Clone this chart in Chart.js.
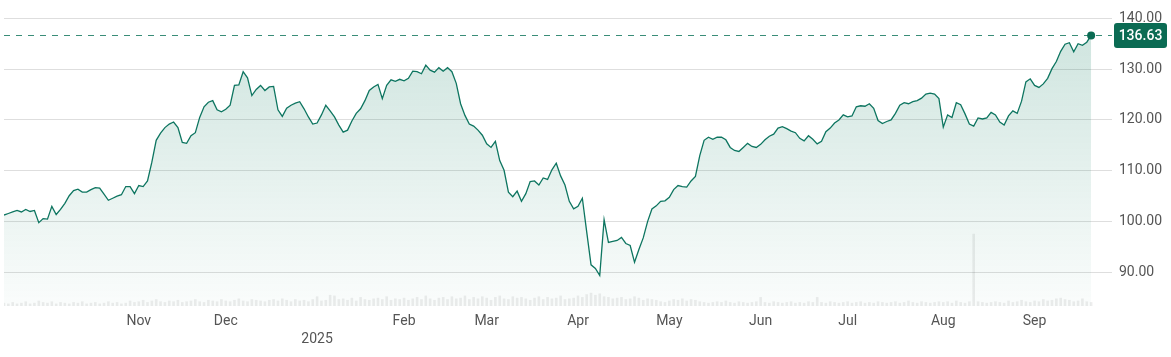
<!DOCTYPE html>
<html><head><meta charset="utf-8">
<script src="https://cdn.jsdelivr.net/npm/chart.js@4/dist/chart.umd.min.js"></script>
<style>html,body{margin:0;padding:0;background:#fff;overflow:hidden}#wrap{width:1171px;height:357px;position:relative}</style>
</head><body><div id="wrap"><canvas id="c"></canvas></div>
<script>
// Daily closing prices, Sep 19 2024 -> Sep 19 2025 (trading days)
const prices = [
101.3,101.6,101.9,102.2,101.9,102.4,102.0,102.2,99.8,100.6,
100.5,103.0,101.4,102.4,103.6,105.1,106.1,106.4,105.8,105.8,
106.3,106.7,106.6,105.4,104.2,104.6,105.0,105.3,106.9,106.9,
105.5,107.1,106.9,108.0,111.7,116.0,117.4,118.5,119.2,119.6,
118.5,115.6,115.4,116.9,117.5,120.5,122.6,123.5,123.8,122.0,
121.6,122.1,122.9,126.8,126.9,129.5,128.3,124.8,126.0,126.8,
125.8,126.5,126.6,122.0,120.7,122.3,122.9,123.3,123.6,122.2,
120.6,119.2,119.4,121.0,122.9,121.8,120.6,119.0,117.6,118.0,
119.8,121.3,122.2,123.8,125.8,126.5,127.0,124.2,126.8,127.9,
127.6,128.0,127.7,128.2,129.6,129.5,129.1,130.8,129.8,129.4,
130.3,129.6,130.3,129.5,127.2,123.2,120.9,119.2,118.8,118.0,
117.0,115.3,114.6,115.8,112.0,110.1,105.8,104.9,106.0,104.0,
105.5,107.9,108.0,107.2,108.6,108.3,110.2,111.5,109.0,107.2,
104.0,102.5,103.0,104.6,98.0,91.5,90.8,89.4,100.4,95.9,
96.1,96.3,96.9,95.7,95.3,92.0,94.5,96.8,100.0,102.5,
103.1,104.0,104.1,104.8,106.3,107.1,106.9,106.8,108.0,108.9,
113.0,116.0,116.6,116.2,116.6,116.6,116.1,114.6,114.0,113.8,
114.6,115.4,114.8,114.6,115.2,116.1,116.8,117.2,118.4,118.7,
118.3,117.8,117.5,116.4,115.9,116.9,116.2,115.3,115.8,117.7,
118.4,119.4,120.0,121.0,120.6,120.8,122.6,122.8,122.7,123.2,
122.3,119.9,119.3,119.7,120.0,121.3,122.9,123.4,123.2,123.6,
123.8,124.3,125.1,125.3,125.1,124.2,118.6,121.0,120.5,123.4,
123.0,121.2,119.2,118.8,120.4,120.2,120.4,121.5,121.0,119.6,
119.0,120.8,121.8,121.3,123.7,127.5,128.1,126.8,126.4,127.1,
128.2,130.1,131.5,133.5,134.9,135.2,133.4,135.0,134.7,135.3,
136.63
];
// Daily volume (relative units)
const volumes = [
4,3,5,3,4,6,3,4,7,5,4,6,3,5,4,3,5,4,6,3,4,5,3,4,6,4,5,3,4,7,5,
6,8,5,7,9,6,5,7,6,8,5,6,7,9,6,5,8,7,6,9,7,6,8,10,7,6,9,8,7,6,8,9,7,10,8,6,9,7,8,6,
9,13,7,8,15,14,9,10,8,11,7,12,9,8,10,11,9,13,8,10,
9,11,8,10,12,9,14,10,8,11,12,9,13,10,11,14,9,12,10,13,11,8,12,14,10,9,13,11,12,10,8,11,13,9,12,10,11,14,9,10,
11,14,12,16,18,15,17,13,12,10,11,12,9,10,13,11,8,10,9,8,
6,5,7,9,8,10,7,9,8,6,5,4,5,6,5,7,5,4,6,5,4,5,6,12,5,4,6,5,4,5,6,4,5,4,6,5,12,5,4,6,5,4,5,6,4,5,6,4,5,4,6,5,4,5,6,4,5,7,5,4,6,5,4,5,6,
5,6,4,7,5,4,6,100,6,5,4,5,6,5,4,7,5,6,8,6,5,7,6,9,7,8,10,11,9,8,6,7,10,6,5
];
// First trading day of each month (index into prices) and its label
const monthTickIndex = [31,51,72,92,111,132,153,174,194,216,237];
const monthTickLabels = ['Nov','Dec',['','2025'],'Feb','Mar','Apr','May','Jun','Jul','Aug','Sep'];
const priceTicks = [90,100,110,120,130,140];

const GREEN = '#0d7560';
const lastIdx = prices.length - 1;
const lastPrice = prices[lastIdx];

Chart.defaults.font.family = "Roboto, 'Noto Sans', sans-serif";

const lastPricePlugin = {
  id: 'lastPrice',
  beforeDatasetsDraw(chart) {
    const {ctx, chartArea} = chart;
    const y = chart.scales.y.getPixelForValue(lastPrice);
    ctx.save();
    ctx.strokeStyle = '#3a8d78';
    ctx.lineWidth = 1;
    ctx.setLineDash([6, 6]);
    ctx.beginPath();
    ctx.moveTo(chartArea.left, Math.round(y) + 0.5);
    ctx.lineTo(chartArea.right, Math.round(y) + 0.5);
    ctx.stroke();
    ctx.restore();
  },
  afterDraw(chart) {
    const {ctx, chartArea} = chart;
    const y = chart.scales.y.getPixelForValue(lastPrice);
    const x0 = chartArea.right + 2, x1 = chart.width - 4, h = 25;
    ctx.save();
    ctx.fillStyle = '#0b6b53';
    ctx.beginPath();
    ctx.roundRect(x0, y - h / 2, x1 - x0, h, 3);
    ctx.fill();
    ctx.fillStyle = '#fff';
    ctx.font = "500 14px Roboto, sans-serif";
    ctx.textAlign = 'center';
    ctx.textBaseline = 'middle';
    ctx.fillText(lastPrice.toFixed(2), (x0 + x1) / 2, y + 1);
    ctx.restore();
  }
};

new Chart(document.getElementById('c'), {
  data: {
    datasets: [
      {
        type: 'line',
        data: prices.map((v, i) => ({x: i, y: v})),
        yAxisID: 'y',
        order: 0,
        borderColor: GREEN,
        borderWidth: 1.3,
        tension: 0,
        pointRadius: ctx => ctx.dataIndex === lastIdx ? 4 : 0,
        pointBackgroundColor: '#0b6b53',
        pointBorderWidth: 0,
        fill: 'start',
        backgroundColor: ctx => {
          const ca = ctx.chart.chartArea;
          if (!ca) return 'rgba(8,120,90,0.1)';
          const g = ctx.chart.ctx.createLinearGradient(0, ca.top, 0, ca.bottom);
          g.addColorStop(0, 'rgba(8,120,90,0.21)');
          g.addColorStop(1, 'rgba(8,120,90,0.02)');
          return g;
        }
      },
      {
        type: 'bar',
        data: volumes.map((v, i) => ({x: i, y: v})),
        yAxisID: 'yv',
        order: 1,
        backgroundColor: 'rgba(0,0,0,0.07)',
        barThickness: 2
      }
    ]
  },
  options: {
    responsive: true,
    maintainAspectRatio: false,
    animation: false,
    devicePixelRatio: 1,
    layout: {padding: {left: 1, top: 0, right: 0, bottom: 0}},
    plugins: {legend: {display: false}, tooltip: {enabled: false}},
    scales: {
      x: {
        type: 'linear',
        offset: false,
        min: 0,
        max: 254.8,
        grid: {display: false, drawTicks: false, offset: false},
        border: {display: false},
        afterBuildTicks: s => { s.ticks = monthTickIndex.map(v => ({value: v})); },
        afterFit: s => { s.height = 51; s.paddingLeft = 0; s.paddingRight = 0; },
        ticks: {
          autoSkip: false,
          maxRotation: 0,
          padding: 7,
          color: '#555',
          font: {size: 14, lineHeight: 1.25},
          callback: v => { const k = monthTickIndex.indexOf(v); return k >= 0 ? monthTickLabels[k] : ''; }
        }
      },
      y: {
        type: 'linear',
        position: 'right',
        min: 83.4,
        max: 142.82,
        grid: {color: '#dedede', drawTicks: false},
        border: {display: false},
        afterBuildTicks: s => { s.ticks = priceTicks.map(v => ({value: v})); },
        afterFit: s => { s.width = 59; s.paddingTop = 0; s.paddingBottom = 0; },
        ticks: {
          padding: 7,
          color: '#555',
          font: {size: 14},
          callback: v => Number(v).toFixed(2)
        }
      },
      yv: {
        type: 'linear',
        display: false,
        min: 0,
        max: 420
      }
    }
  },
  plugins: [lastPricePlugin]
});
</script>
</body></html>
